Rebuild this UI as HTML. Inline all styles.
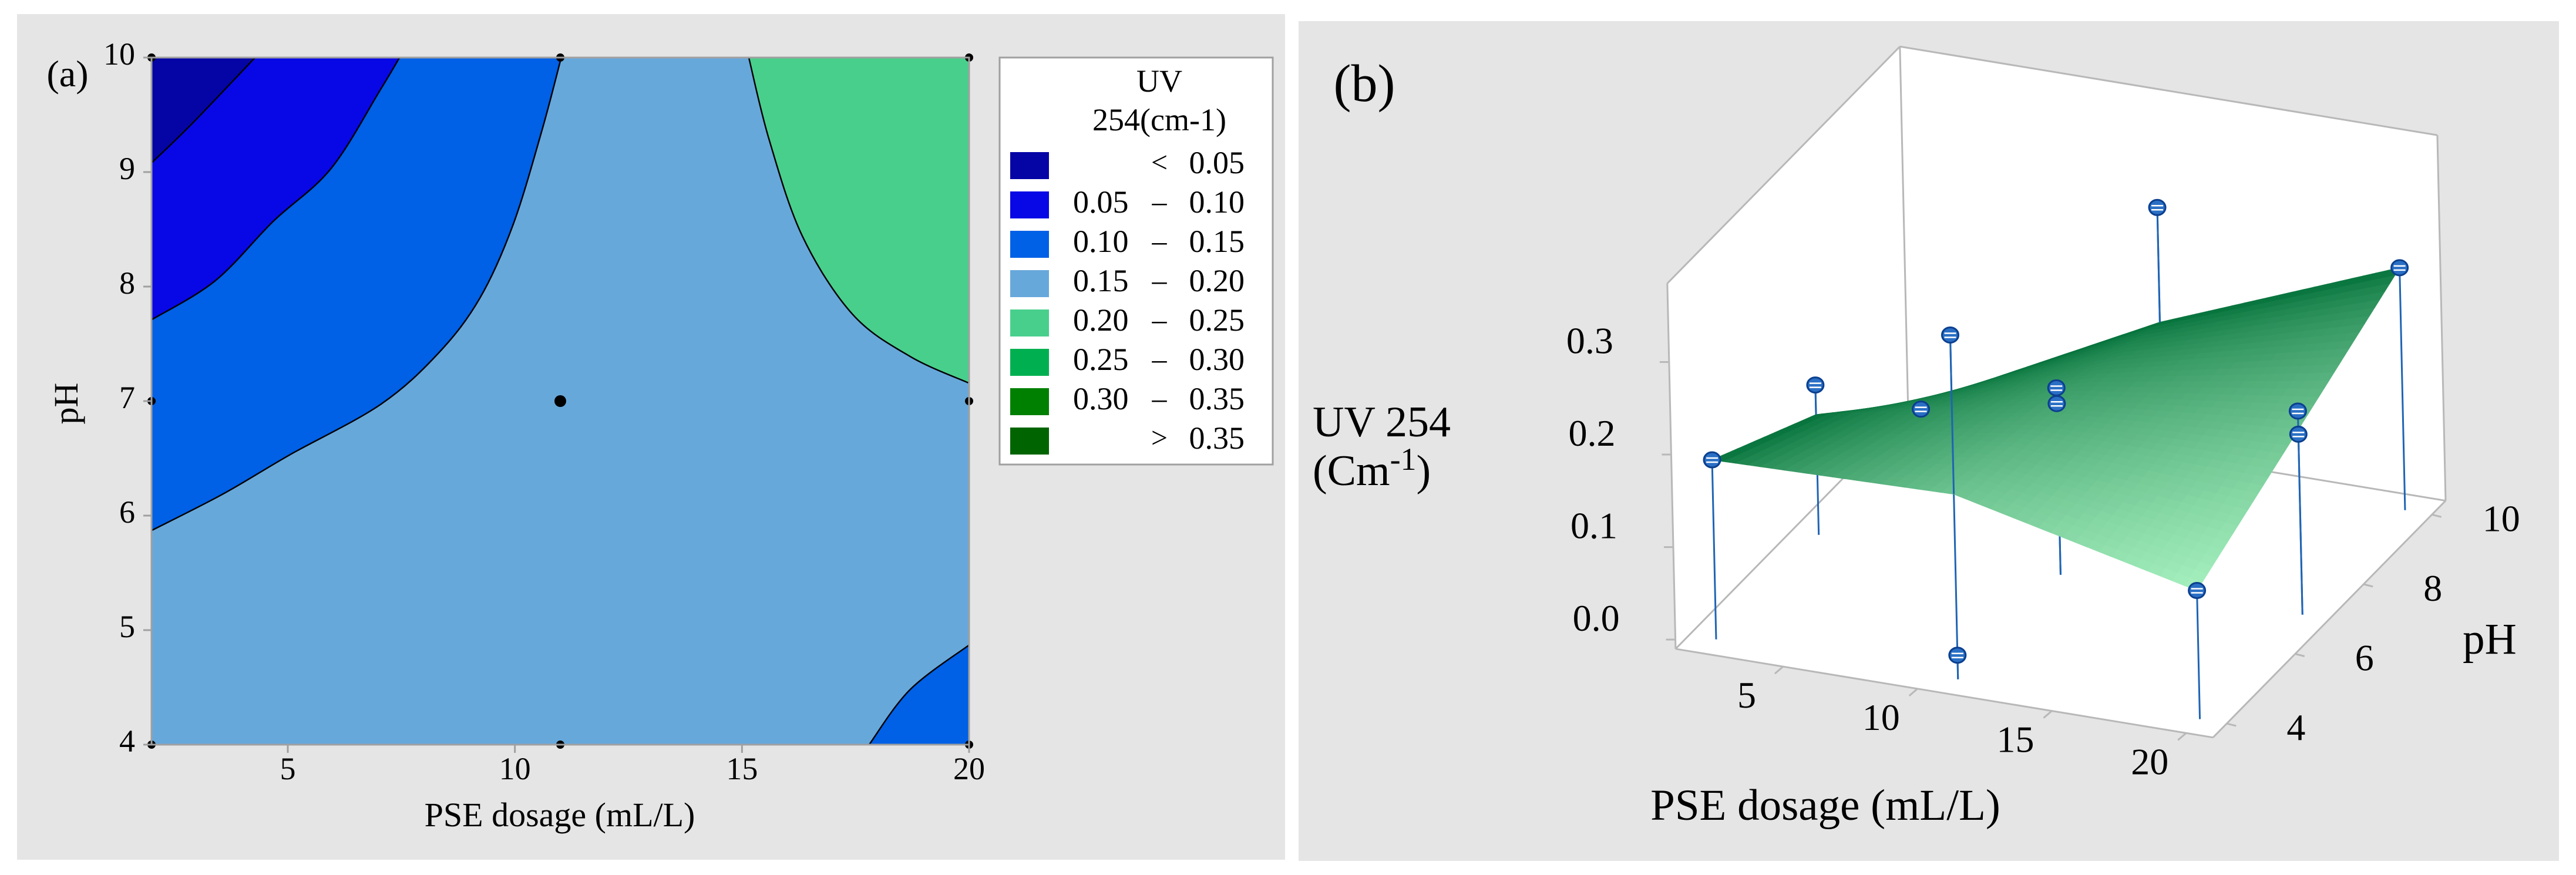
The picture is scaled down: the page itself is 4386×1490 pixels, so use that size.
<!DOCTYPE html>
<html><head><meta charset="utf-8"><style>
html,body{margin:0;padding:0;background:#fff;}
svg{display:block;font-family:"Liberation Serif",serif;}
</style></head><body>
<svg id="fig" width="4386" height="1490" viewBox="0 0 4386 1490" xmlns="http://www.w3.org/2000/svg">
<rect x="0" y="0" width="4386" height="1490" fill="#ffffff"/>
<g id="panelA">
<rect x="29" y="24" width="2159" height="1440" fill="#e5e5e5"/>
<text x="115" y="147" font-size="64" text-anchor="middle">(a)</text>
<g id="contours"></g>
<g id="axesA"></g>
<text x="953" y="1407" font-size="58" text-anchor="middle">PSE dosage (mL/L)</text>
<text x="0" y="0" font-size="58" text-anchor="middle" transform="translate(132,687) rotate(-90)">pH</text>
<g id="legend">
<rect x="1702" y="98" width="465" height="693" fill="#ffffff" stroke="#a0a0a0" stroke-width="3"/>
<text x="1974" y="156" font-size="54" text-anchor="middle">UV</text>
<text x="1974" y="222" font-size="54" text-anchor="middle">254(cm-1)</text>
</g>
</g>
<g id="panelB">
<rect x="2211" y="36" width="2146" height="1430" fill="#e5e5e5"/>
<text x="2323" y="172" font-size="90" text-anchor="middle">(b)</text>
<g id="box3d"></g>
<text x="2235" y="743" font-size="74">UV 254</text>
<text x="2235" y="826" font-size="74">(Cm<tspan dy="-26" font-size="54">-1</tspan><tspan dy="26">)</tspan></text>
<text x="3108" y="1396" font-size="75" text-anchor="middle">PSE dosage (mL/L)</text>
<text x="4239" y="1113" font-size="75" text-anchor="middle">pH</text>
</g>
</svg>
<script>
const NS='http://www.w3.org/2000/svg';
// ---------- Panel A data ----------
const xTicksA=[5,10,15,20];
const yTicksA=[4,5,6,7,8,9,10];
const designX=[2,11,20,2,11,20,2,11,20];
const designPH=[10,10,10,7,7,7,4,4,4];
const legendLabelsLo=['','0.05','0.10','0.15','0.20','0.25','0.30',''];
const legendLabelsHi=['0.05','0.10','0.15','0.20','0.25','0.30','0.35','0.35'];
const legendSep=['<','–','–','–','–','–','–','>'];
const legendColors=['#0505a6','#0808e6','#0060e6','#67a8db','#48cf8c','#00b050','#008000','#006400'];
// contour boundaries [x, pH]
const bLt005X=[2,2.86,4.28];
const bLt005Y=[9.08,9.41,10];
const b010X=[2,3.4,4.68,5.95,7.04,7.46];
const b010Y=[7.71,8.05,8.57,9.03,9.72,10];
const b015X=[2,3.58,5.04,7.04,8.32,9.23,9.96,10.6,11.02];
const b015Y=[5.87,6.19,6.53,6.97,7.42,7.9,8.54,9.37,10];
const b020X=[15.15,15.6,16.33,17.43,18.7,19.98];
const b020Y=[10,9.28,8.44,7.76,7.39,7.16];
const bBRX=[17.8,18.7,20];
const bBRY=[4,4.48,4.87];

// ---------- Panel B data ----------
const ptX=[2,2,2,11,11,11,11,11,20,20,20,20];
const ptPH=[4,7,10,4,4,7,7,10,7,7,4,10];
const ptZ=[0.184,0.152,0.013,0.362,0.016,0.192,0.175,0.274,0.21,0.185,0.129,0.252];
const gridX=[2,11,20];
const gridPH=[4,7,10];
const surfRow4=[0.184,0.19,0.129];
const surfRow7=[0.12,0.17,0.19];
const surfRow10=[0.02,0.15,0.252];
const zTicks=[0.0,0.1,0.2,0.3];
const zTickLabels=['0.0','0.1','0.2','0.3'];
const xTicksB=[5,10,15,20];
const phTicksB=[4,6,8,10];

function mk(tag,attrs,parent){const e=document.createElementNS(NS,tag);for(const k in attrs)e.setAttribute(k,attrs[k]);parent.appendChild(e);return e;}
function ax(x){return 258+(x-2)/18*1392;}
function ay(p){return 1268-(p-4)/6*1170;}
function smooth(pts){let d='M'+pts[0][0]+','+pts[0][1];for(let i=0;i<pts.length-1;i++){const p0=pts[Math.max(0,i-1)],p1=pts[i],p2=pts[i+1],p3=pts[Math.min(pts.length-1,i+2)];const c1=[p1[0]+(p2[0]-p0[0])/6,p1[1]+(p2[1]-p0[1])/6],c2=[p2[0]-(p3[0]-p1[0])/6,p2[1]-(p3[1]-p1[1])/6];d+=' C'+c1[0]+','+c1[1]+' '+c2[0]+','+c2[1]+' '+p2[0]+','+p2[1];}return d;}

const cg=document.getElementById('contours');
const base=mk('rect',{x:258,y:98,width:1392,height:1170,fill:'#67a8db'},cg);


function region(xs,ys,closeX,closeY,color,name){
  const pts=xs.map((x,i)=>[ax(x),ay(ys[i])]);
  const d=smooth(pts);
  const f=mk('path',{d:d+' L'+ax(closeX)+','+ay(closeY)+' Z',fill:color},cg);
  
  
  const l=mk('path',{d:d,fill:'none',stroke:'#000',"stroke-width":2.5},cg);
  
  
}
region(b015X,b015Y,2,10,'#0060e6','region-0.10-0.15');
region(b010X,b010Y,2,10,'#0808e6','region-0.05-0.10');
region(bLt005X,bLt005Y,2,10,'#0505a6','region-below-0.05');
region(b020X,b020Y,20,10,'#48cf8c','region-0.20-0.25');
region(bBRX,bBRY,20,4,'#0060e6','region-0.10-0.15-corner');
for(let i=0;i<designX.length;i++){
  const c=mk('circle',{cx:ax(designX[i]),cy:ay(designPH[i]),r:(designX[i]===11&&designPH[i]===7)?10:7,fill:'#000'},cg);
  
  
}
const ag=document.getElementById('axesA');
const frame=mk('rect',{x:258,y:98,width:1392,height:1170,fill:'none',stroke:'#a0a0a0',"stroke-width":3},ag);


xTicksA.forEach(v=>{
  const t=mk('line',{x1:ax(v),y1:1268,x2:ax(v),y2:1282,stroke:'#a0a0a0',"stroke-width":3},ag);
  
  
  const l=mk('text',{x:ax(v),y:1327,"font-size":54,"text-anchor":"middle"},ag);l.textContent=v;
  
  
});
yTicksA.forEach(v=>{
  const t=mk('line',{x1:244,y1:ay(v),x2:258,y2:ay(v),stroke:'#a0a0a0',"stroke-width":3},ag);
  
  
  const l=mk('text',{x:230,y:ay(v)+12,"font-size":54,"text-anchor":"end"},ag);l.textContent=v;
  
  
});
const lg=document.getElementById('legend');
legendColors.forEach((c,i)=>{
  const y=259+i*67;
  const s=mk('rect',{x:1720,y:y,width:66,height:46,fill:c},lg);
  
  
  const t=mk('text',{x:2119,y:y+36,"font-size":54,"text-anchor":"end"},lg);t.textContent=legendLabelsHi[i];
  
  
  const sp=mk('text',{x:1974,y:y+34,"font-size":50,"text-anchor":"middle"},lg);sp.textContent=legendSep[i];
  
  
  if(legendLabelsLo[i]){
    const lo=mk('text',{x:1827,y:y+36,"font-size":54},lg);lo.textContent=legendLabelsLo[i];
    
    
  }
});

// ---------- Panel B ----------
function P(x,p,z){const zx=473+32.45*(x-1)+41.3*(p-3.6)-25.3*(z+0.01);const zy=1157+7.9*(x-1)-62.1*(p-3.6)-1650*(z+0.01);return [2186+zx*1.41,zy*0.955];}
const surfRows=[surfRow4,surfRow7,surfRow10];
function surfZ(x,p){
  const i=x<=gridX[1]?0:1, j=p<=gridPH[1]?0:1;
  const u=(x-gridX[i])/(gridX[i+1]-gridX[i]), v=(p-gridPH[j])/(gridPH[j+1]-gridPH[j]);
  const a=surfRows[j][i],b=surfRows[j][i+1],c=surfRows[j+1][i],d=surfRows[j+1][i+1];
  return a*(1-u)*(1-v)+b*u*(1-v)+c*(1-u)*v+d*u*v;
}
const bg=document.getElementById('box3d');
const ZMIN=-0.01,ZMAX=0.385;
const FL=P(1,3.6,ZMIN),FR=P(21,3.6,ZMIN),RB=P(21,10.4,ZMIN),BL=P(1,10.4,ZMIN);
const FLt=P(1,3.6,ZMAX),BLt=P(1,10.4,ZMAX),RBt=P(21,10.4,ZMAX);
const wall=mk('polygon',{points:[FL,FLt,BLt,RBt,RB,FR].map(p=>p.join(',')).join(' '),fill:'#ffffff'},bg);


[[FL,FR],[FR,RB],[RB,BL],[BL,FL],[FL,FLt],[BL,BLt],[RB,RBt],[FLt,BLt],[BLt,RBt]].forEach(e=>{
  const l=mk('line',{x1:e[0][0],y1:e[0][1],x2:e[1][0],y2:e[1][1],stroke:'#b8b8b8',"stroke-width":3},bg);
  
  
});
zTicks.forEach((z,i)=>{
  const p=P(1,3.6,z);
  const t=mk('line',{x1:p[0]-16,y1:p[1],x2:p[0],y2:p[1],stroke:'#b8b8b8',"stroke-width":3},bg);
  
  
  const l=mk('text',{x:p[0]-95,y:p[1]-15,"font-size":64,"text-anchor":"end"},bg);l.textContent=zTickLabels[i];
  
  
});
xTicksB.forEach(v=>{
  const p=P(v,3.6,ZMIN);
  const t=mk('line',{x1:p[0],y1:p[1],x2:p[0]-14,y2:p[1]+12,stroke:'#b8b8b8',"stroke-width":3},bg);
  
  
  const l=mk('text',{x:p[0]-62,y:p[1]+70,"font-size":64,"text-anchor":"middle"},bg);l.textContent=v;
  
  
});
phTicksB.forEach(v=>{
  const p=P(21,v,ZMIN);
  const t=mk('line',{x1:p[0],y1:p[1],x2:p[0]+16,y2:p[1]+4,stroke:'#b8b8b8',"stroke-width":3},bg);
  
  
  const l=mk('text',{x:p[0]+118,y:p[1]+28,"font-size":64,"text-anchor":"middle"},bg);l.textContent=v;
  
  
});
ptX.forEach((x,i)=>{
  const a=P(x,ptPH[i],ZMIN),b=P(x,ptPH[i],ptZ[i]);
  const s=mk('line',{x1:a[0],y1:a[1],x2:b[0],y2:b[1],stroke:'#1f64b4',"stroke-width":3},bg);
  
  
});
const N=40;
const sg=mk('g',{},bg);


for(let j=N-1;j>=0;j--){
  for(let i=0;i<N;i++){
    const x0=2+18*i/N,x1=2+18*(i+1)/N,p0=4+6*j/N,p1=4+6*(j+1)/N;
    const pts=[P(x0,p0,surfZ(x0,p0)),P(x1,p0,surfZ(x1,p0)),P(x1,p1,surfZ(x1,p1)),P(x0,p1,surfZ(x0,p1))];
    const xm=(x0+x1)/2,pm=(p0+p1)/2;
    const t=Math.pow(Math.max(0,((xm-2)/18)*((10-pm)/6)),0.6);
    const r=Math.round(0+165*t),g=Math.round(110+130*t),b=Math.round(55+135*t);
    const col='rgb('+r+','+g+','+b+')';
    mk('polygon',{points:pts.map(p=>p.join(',')).join(' '),fill:col,stroke:col,"stroke-width":1.2},sg);
  }
}
ptX.forEach((x,i)=>{
  const sz=surfZ(x,ptPH[i]);
  if(ptZ[i]>sz){
    const a=P(x,ptPH[i],sz),b=P(x,ptPH[i],ptZ[i]);
    const s=mk('line',{x1:a[0],y1:a[1],x2:b[0],y2:b[1],stroke:'#1f64b4',"stroke-width":3},bg);
    
    
  }
});
ptX.forEach((x,i)=>{
  const b=P(x,ptPH[i],ptZ[i]);
  const m=mk('g',{},bg);
  
  
  mk('ellipse',{cx:b[0],cy:b[1],rx:14,ry:13,fill:'#2a6fc4',stroke:'#0b3f8f',"stroke-width":3},m);
  mk('line',{x1:b[0]-10,y1:b[1]-3,x2:b[0]+10,y2:b[1]-3,stroke:'#ffffff',"stroke-width":2.5},m);
  mk('line',{x1:b[0]-10,y1:b[1]+4,x2:b[0]+10,y2:b[1]+4,stroke:'#ffffff',"stroke-width":2.5},m);
});
</script>
</body></html>
